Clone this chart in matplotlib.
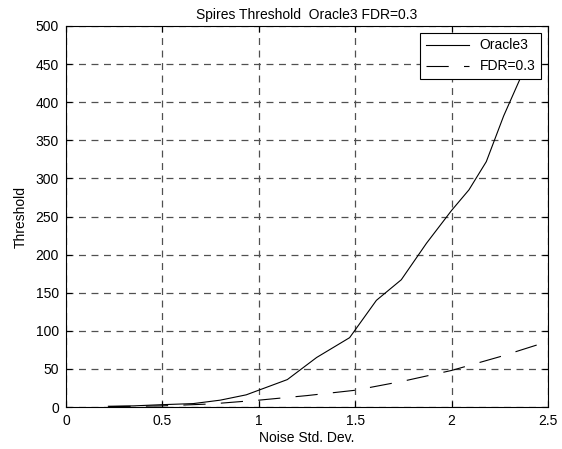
import matplotlib.pyplot as plt

plt.rcParams['font.family'] = ['Liberation Sans', 'DejaVu Sans']
plt.rcParams['lines.scale_dashes'] = False

# noise level vs. threshold
oracle_x = [0.22, 0.35, 0.49, 0.66, 0.80, 0.935, 1.148, 1.30, 1.471, 1.61,
            1.739, 1.87, 2.0, 2.09, 2.18, 2.27, 2.375, 2.45]
oracle_y = [1, 1.5, 3, 4.5, 9, 16, 36, 65, 91, 140,
            167, 215, 258, 285, 322, 382, 442, 490]

fdr_x = [0.22, 0.5, 0.75, 1.0, 1.25, 1.5, 1.75, 2.0, 2.25, 2.5]
fdr_y = [0.5, 1.5, 4, 9, 15, 22, 34, 48, 66, 86]

fig = plt.figure(figsize=(5.62, 4.49), dpi=100)
ax = fig.add_axes([0.1174, 0.0935, 0.8577, 0.8486])

ax.plot(oracle_x, oracle_y, color='black', lw=0.8, label='Oracle3')
ax.plot(fdr_x, fdr_y, color='black', lw=0.8, linestyle=(0, (16, 11)), label='FDR=0.3')

ax.set_xlim(0, 2.5)
ax.set_ylim(0, 500)
ax.set_xticks([0, 0.5, 1, 1.5, 2, 2.5])
ax.set_xticklabels(['0', '0.5', '1', '1.5', '2', '2.5'])
ax.set_yticks(range(0, 501, 50))

ax.grid(True, color='#505050', lw=0.9, linestyle=(0, (5, 4)))
ax.tick_params(direction='in', length=4, width=0.8, top=True, right=True,
               labelsize=10, pad=5)
for s in ax.spines.values():
    s.set_linewidth(0.8)

ax.set_title('Spires Threshold  Oracle3 FDR=0.3', fontsize=10, pad=5)
ax.set_xlabel('Noise Std. Dev.', fontsize=10, labelpad=2)
ax.set_ylabel('Threshold', fontsize=10, labelpad=6)

leg = ax.legend(loc='upper right', fontsize=10, fancybox=False, framealpha=1,
                edgecolor='black', borderaxespad=0.5, handlelength=3.1,
                borderpad=0.4, labelspacing=0.5)
leg.get_frame().set_linewidth(0.8)

fig.savefig('out.png', dpi=100)
